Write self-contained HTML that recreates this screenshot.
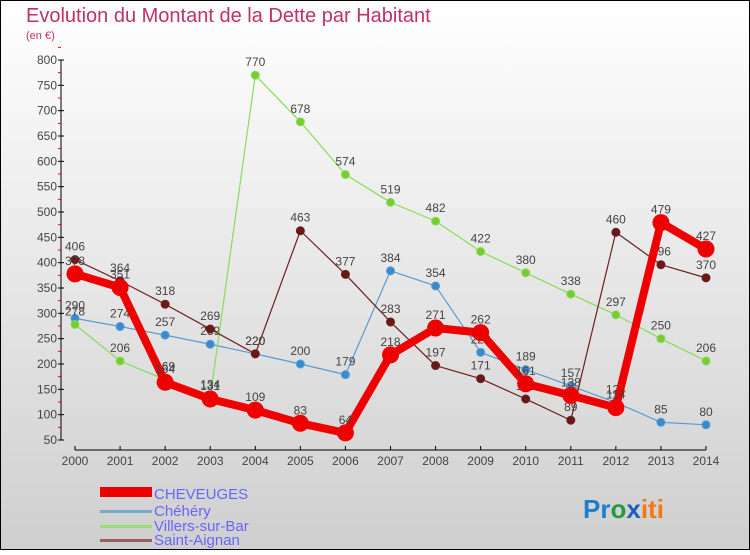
<!DOCTYPE html>
<html><head><meta charset="utf-8"><style>
body{margin:0;width:750px;height:550px;overflow:hidden;font-family:"Liberation Sans",sans-serif}
</style></head><body>
<svg width="750" height="550" xmlns="http://www.w3.org/2000/svg">
<defs><linearGradient id="bg" x1="0" y1="0" x2="0" y2="1"><stop offset="0" stop-color="#ffffff"/><stop offset="1" stop-color="#cfcfcf"/></linearGradient></defs>
<rect x="0.5" y="0.5" width="749" height="549" fill="url(#bg)" stroke="#000"/>
<text x="26" y="22" font-size="20" fill="#c0306a">Evolution du Montant de la Dette par Habitant</text>
<text x="26" y="39" font-size="11" fill="#c0306a">(en €)</text>
<g id="axes"></g>
<g id="series"></g>
<g id="legend" font-size="15" fill="#6666ff">
<rect x="100" y="487" width="52" height="10" fill="#ee0000"/>
<text x="154" y="499" fill="#6666ff">CHEVEUGES</text>
<rect x="100" y="510" width="52" height="3" fill="#7aa9d0"/>
<text x="154" y="516" fill="#6666ff">Chéhéry</text>
<rect x="100" y="525" width="52" height="3" fill="#99dd77"/>
<text x="154" y="531" fill="#6666ff">Villers-sur-Bar</text>
<rect x="100" y="539" width="52" height="3" fill="#9a6060"/>
<text x="154" y="545" fill="#6666ff">Saint-Aignan</text>
</g>
<text x="583" y="518" font-size="26" font-weight="bold"><tspan fill="#1a7fd0">Pr</tspan><tspan fill="#2a9a40">o</tspan><tspan fill="#1a60c0">x</tspan><tspan fill="#f07a10">iti</tspan></text>
</svg>
<script>
const years=[2000,2001,2002,2003,2004,2005,2006,2007,2008,2009,2010,2011,2012,2013,2014];
const yTicks=[50,100,150,200,250,300,350,400,450,500,550,600,650,700,750,800];
const cheveuges=[378,351,164,131,109,83,64,218,271,262,161,138,114,479,427];
const chehery=[290,274,257,239,220,200,179,384,354,223,189,157,124,85,80];
const villers=[278,206,169,134,770,678,574,519,482,422,380,338,297,250,206];
const saintAignan=[406,364,318,269,220,463,377,283,197,171,131,89,460,396,370];
const NS="http://www.w3.org/2000/svg";
const x=i=>75+i*(706-75)/(years.length-1);
const y=v=>440-(v-50)*(380/750);
function mk(t,a,p){const e=document.createElementNS(NS,t);for(const k in a)e.setAttribute(k,a[k]);p.appendChild(e);return e;}
const ax=document.getElementById('axes');
const yl=mk('line',{x1:61,y1:60,x2:61,y2:440,stroke:'#000'},ax);


yTicks.forEach(v=>{
 const tk=mk('line',{x1:58,x2:64,y1:y(v),y2:y(v),stroke:'#000'},ax);
 
 
 const m=mk('line',{x1:58,x2:61,y1:y(v+25),y2:y(v+25),stroke:'#e00'},ax);
 
 
 const t=mk('text',{x:57,y:y(v)+4,'text-anchor':'end','font-size':12,fill:'#444'},ax);
 t.textContent=v;
 
 
});
const xl=mk('line',{x1:75,y1:450,x2:706,y2:450,stroke:'#000'},ax);


years.forEach((yr,i)=>{
 const tk=mk('line',{x1:x(i),x2:x(i),y1:446,y2:450,stroke:'#000'},ax);
 
 
 const t=mk('text',{x:x(i),y:465,'text-anchor':'middle','font-size':12,fill:'#444'},ax);
 t.textContent=yr;
 
 
});
const sg=document.getElementById('series');
function series(vals,color,dot,w,r,name){
 const g=mk('g',{},sg);
 
 
 const l=mk('polyline',{points:vals.map((v,i)=>x(i)+','+y(v)).join(' '),fill:'none',stroke:color,'stroke-width':w,'stroke-linejoin':'round'},g);
 
 
 vals.forEach((v,i)=>{
  const c=mk('circle',{cx:x(i),cy:y(v),r:r,fill:dot,stroke:color,'stroke-width':1},g);
  
  
  const t=mk('text',{x:x(i),y:y(v)-9,'text-anchor':'middle','font-size':12,fill:'#444'},g);
  t.textContent=v;
  
  
 });
}
series(chehery,'#5a9bd0','#3a8ad0',1.2,4,'chehery');
series(villers,'#88dd55','#77cc33',1.2,4,'villers-sur-bar');
series(saintAignan,'#6a2020','#6a1818',1.2,4,'saint-aignan');
series(cheveuges,'#ee0000','#ee0000',8,8,'cheveuges');
</script>
</body></html>
